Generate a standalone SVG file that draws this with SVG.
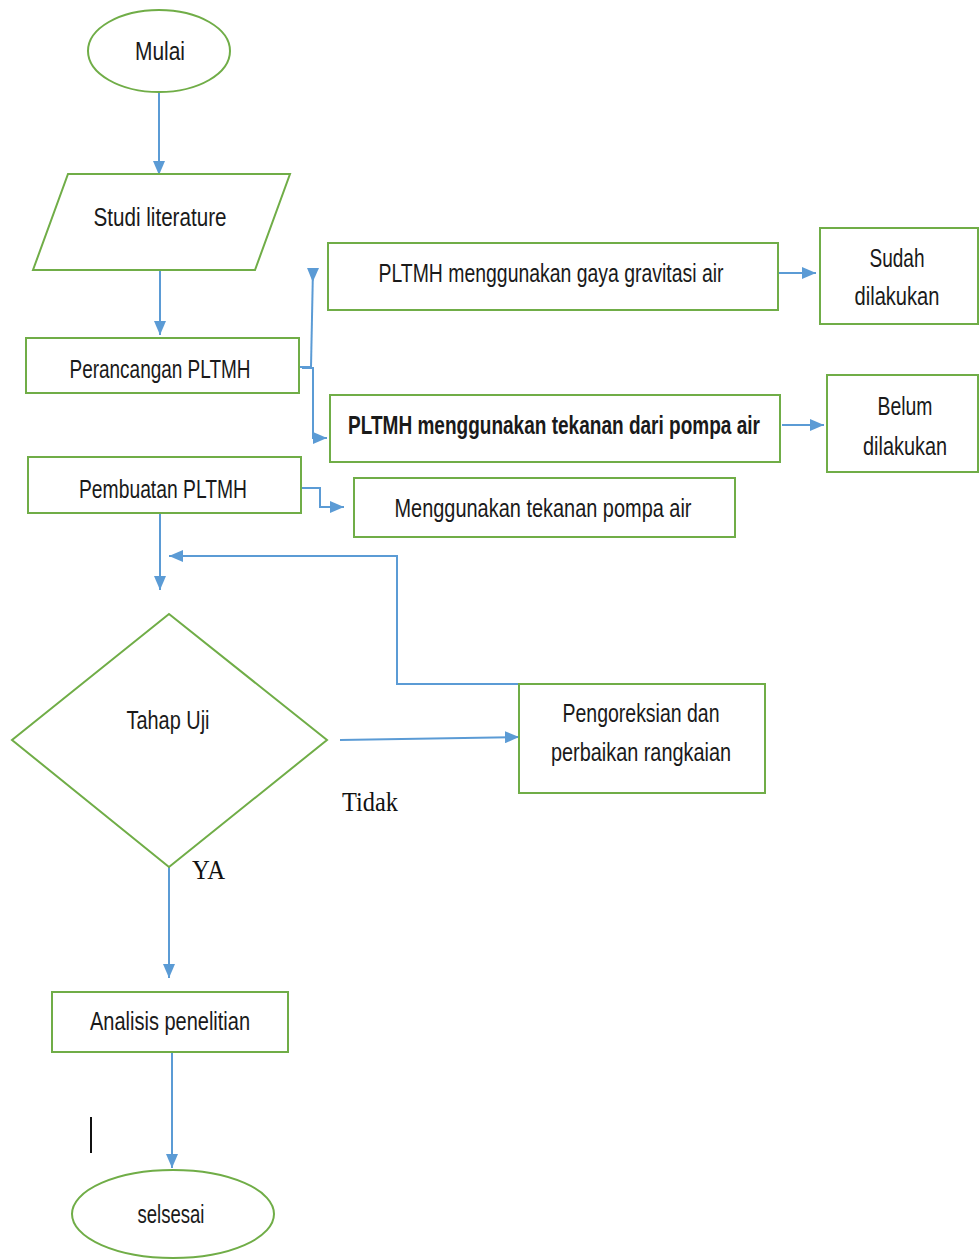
<svg xmlns="http://www.w3.org/2000/svg" width="979" height="1259" viewBox="0 0 979 1259">
<style>
.shape{fill:#fff;stroke:#70AD47;stroke-width:2}
.conn{fill:none;stroke:#5B9BD5;stroke-width:2}
.t{font-family:"Liberation Sans Narrow","Liberation Sans",Arial,sans-serif;font-size:25px;fill:#1a1a1a;text-anchor:middle}
.b{font-weight:bold}
.s{font-family:"Liberation Serif","Times New Roman",serif;font-size:28px;fill:#111}
</style>
<defs>
<marker id="arr" viewBox="0 0 14 12" refX="14" refY="6" markerWidth="14" markerHeight="12" markerUnits="userSpaceOnUse" orient="auto"><path d="M0,0 L14,6 L0,12 z" fill="#5B9BD5"/></marker>
<marker id="arrS" viewBox="0 0 14 12" refX="0" refY="6" markerWidth="14" markerHeight="12" markerUnits="userSpaceOnUse" orient="auto"><path d="M0,0 L14,6 L0,12 z" fill="#5B9BD5"/></marker>
</defs>
<rect width="979" height="1259" fill="#fff"/>
<g id="connectors">
<path class="conn" d="M159,92 V175" marker-end="url(#arr)"/>
<path class="conn" d="M160,270 V335" marker-end="url(#arr)"/>
<path class="conn" d="M299,367 H311"/>
<path class="conn" d="M313,268 L311,367" marker-start="url(#arrS)"/>
<path class="conn" d="M302,368 H313 V438 H327" marker-end="url(#arr)"/>
<path class="conn" d="M778,273 H816" marker-end="url(#arr)"/>
<path class="conn" d="M782,425 H824" marker-end="url(#arr)"/>
<path class="conn" d="M297,488 H320 V507 H344" marker-end="url(#arr)"/>
<path class="conn" d="M160,513 V590" marker-end="url(#arr)"/>
<path class="conn" d="M625,684 H397 V556 H169" marker-end="url(#arr)"/>
<path class="conn" d="M340,740 L519,737" marker-end="url(#arr)"/>
<path class="conn" d="M169,867 V978" marker-end="url(#arr)"/>
<path class="conn" d="M172,1052 V1168" marker-end="url(#arr)"/>
</g>
<g id="mulai"><ellipse class="shape" cx="159" cy="51" rx="71" ry="41"/><text class="t" x="160" y="60" textLength="50" lengthAdjust="spacingAndGlyphs">Mulai</text></g>
<g id="studi"><polygon class="shape" points="68,174 290,174 255,270 33,270"/><text class="t" x="160" y="226" textLength="133" lengthAdjust="spacingAndGlyphs">Studi literature</text></g>
<g id="perancangan"><rect class="shape" x="26" y="338" width="273" height="55"/><text class="t" x="160" y="378" textLength="181" lengthAdjust="spacingAndGlyphs">Perancangan PLTMH</text></g>
<g id="gravitasi"><rect class="shape" x="328" y="243" width="450" height="67"/><text class="t" x="551" y="282" textLength="345" lengthAdjust="spacingAndGlyphs">PLTMH menggunakan gaya gravitasi air</text></g>
<g id="sudah"><rect class="shape" x="820" y="228" width="158" height="96"/><text class="t" x="897" y="267" textLength="55" lengthAdjust="spacingAndGlyphs">Sudah</text><text class="t" x="897" y="305" textLength="85" lengthAdjust="spacingAndGlyphs">dilakukan</text></g>
<g id="tekanan"><rect class="shape" x="330" y="395" width="450" height="67"/><text class="t b" x="554" y="434" textLength="412" lengthAdjust="spacingAndGlyphs">PLTMH menggunakan tekanan dari pompa air</text></g>
<g id="belum"><rect class="shape" x="827" y="375" width="151" height="97"/><text class="t" x="905" y="415" textLength="55" lengthAdjust="spacingAndGlyphs">Belum</text><text class="t" x="905" y="455" textLength="84" lengthAdjust="spacingAndGlyphs">dilakukan</text></g>
<g id="pembuatan"><rect class="shape" x="28" y="457" width="273" height="56"/><text class="t" x="163" y="498" textLength="168" lengthAdjust="spacingAndGlyphs">Pembuatan PLTMH</text></g>
<g id="pompa"><rect class="shape" x="354" y="478" width="381" height="59"/><text class="t" x="543" y="517" textLength="297" lengthAdjust="spacingAndGlyphs">Menggunakan tekanan pompa air</text></g>
<g id="tahapuji"><polygon class="shape" points="169,614 327,740 169,867 12,740"/><text class="t" x="168" y="729" textLength="83" lengthAdjust="spacingAndGlyphs">Tahap Uji</text></g>
<g id="pengoreksian"><rect class="shape" x="519" y="684" width="246" height="109"/><text class="t" x="641" y="722" textLength="157" lengthAdjust="spacingAndGlyphs">Pengoreksian dan</text><text class="t" x="641" y="761" textLength="180" lengthAdjust="spacingAndGlyphs">perbaikan rangkaian</text></g>
<g id="labels"><text class="s" x="342" y="811" textLength="56" lengthAdjust="spacingAndGlyphs">Tidak</text><text class="s" x="192" y="879" textLength="33" lengthAdjust="spacingAndGlyphs">YA</text></g>
<g id="analisis"><rect class="shape" x="52" y="992" width="236" height="60"/><text class="t" x="170" y="1030" textLength="160" lengthAdjust="spacingAndGlyphs">Analisis penelitian</text></g>
<line x1="91" y1="1117" x2="91" y2="1153" stroke="#111" stroke-width="2"/>
<g id="selsesai"><ellipse class="shape" cx="173" cy="1214" rx="101" ry="44"/><text class="t" x="171" y="1223" textLength="67" lengthAdjust="spacingAndGlyphs">selsesai</text></g>
</svg>
